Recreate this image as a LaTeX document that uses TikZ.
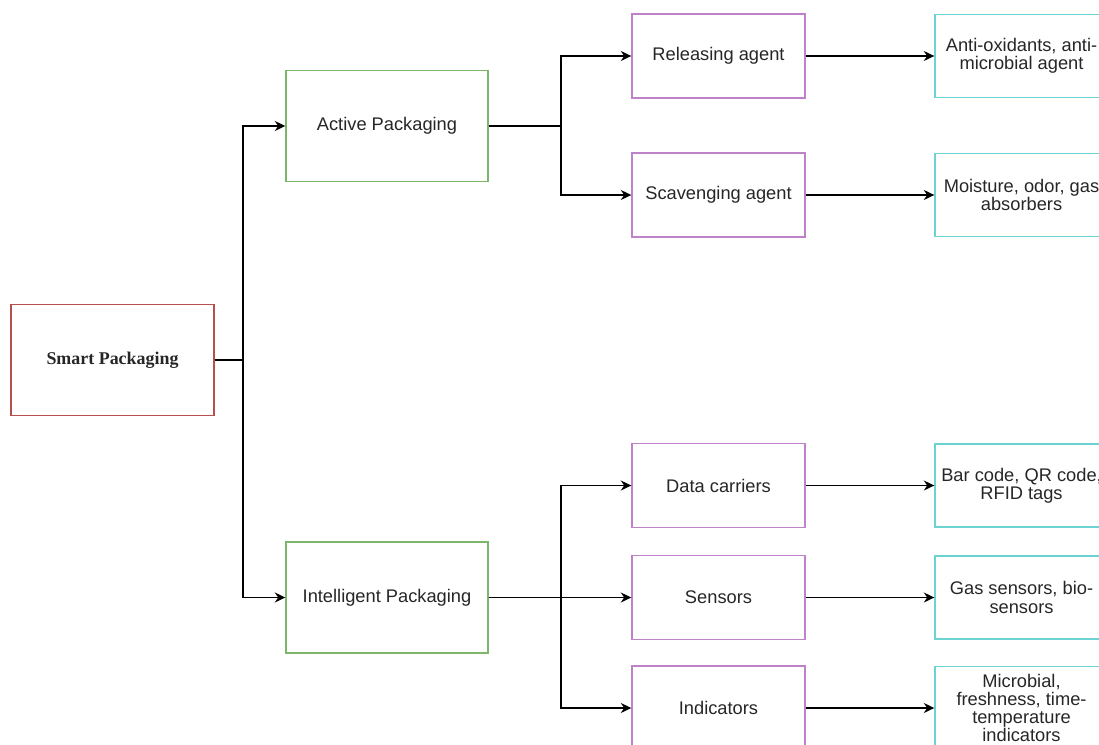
\documentclass[tikz,border=0pt]{standalone}
\usepackage{xcolor}
\usepackage{tikz}
\usepackage{fontspec}
\setmainfont{Liberation Sans}
\newfontfamily\rootfont{Liberation Serif}
\usetikzlibrary{shapes,arrows,calc,positioning}
\usetikzlibrary{arrows.meta}

\definecolor{boxred}{HTML}{B5504C}
\definecolor{boxgreen}{HTML}{7DB56A}
\definecolor{boxpurple}{HTML}{BE82C8}
\definecolor{boxcyan}{HTML}{6CD2D2}
\definecolor{boxtext}{HTML}{262626}

\begin{document}
\begin{tikzpicture}[->,>={Stealth[length=2.1mm,width=2mm]},line width=1pt,font=\fontsize{10.4}{10.3}\selectfont,text=boxtext]
	\tikzstyle{root} = [draw=boxred,rectangle,line width=0.8pt,minimum width=4.06cm,minimum height=2.22cm,font=\rootfont\bfseries\fontsize{10.2}{12}\selectfont]
	\tikzstyle{block1} = [draw=boxgreen,rectangle,line width=0.8pt,minimum width=4.04cm,minimum height=2.22cm]
	\tikzstyle{block2} = [draw=boxpurple,rectangle,line width=0.8pt,minimum width=3.46cm,minimum height=1.68cm]
	\tikzstyle{block3} = [draw=boxcyan,rectangle,line width=0.8pt,minimum width=3.46cm,minimum height=1.66cm,align=center]

	\useasboundingbox (0,0) rectangle (21.98,14.88);
	\clip (0,0) rectangle (21.98,14.88);

	\node[root] (SP) at (2.25,7.68) {Smart Packaging};

	\node[block1] (AP) at (7.74,12.36) {Active Packaging};
	\node[block1] (IP) at (7.74,2.93) {Intelligent Packaging};

	\node[block2] (RA) at (14.37,13.76) {Releasing agent};
	\node[block2] (SA) at (14.37,10.98) {Scavenging agent};
	\node[block2] (DC) at (14.37,5.17) {Data carriers};
	\node[block2] (SE) at (14.37,2.93) {Sensors};
	\node[block2] (IN) at (14.37,0.72) {Indicators};

	\node[block3] (RA1) at (20.43,13.76) {Anti-oxidants, anti-\\microbial agent};
	\node[block3] (SA1) at (20.43,10.98) {Moisture, odor, gas\\absorbers};
	\node[block3] (DC1) at (20.43,5.17) {Bar code, QR code,\\RFID tags};
	\node[block3] (SE1) at (20.43,2.93) {Gas sensors, bio-\\sensors};
	\node[block3] (IN1) at (20.43,0.72) {Microbial,\\freshness, time-\\temperature\\indicators};

	\draw (SP.east) -- ++(0.56,0) |- (AP.west);
	\draw (SP.east) -- ++(0.56,0) |- (IP.west);

	\draw (AP.east) -- ++(1.44,0) |- (RA.west);
	\draw (AP.east) -- ++(1.44,0) |- (SA.west);

	\draw (IP.east) -- ++(1.44,0) |- (DC.west);
	\draw (IP.east) -- (SE.west);
	\draw (IP.east) -- ++(1.44,0) |- (IN.west);

	\draw (RA.east) -- (RA1.west);
	\draw (SA.east) -- (SA1.west);
	\draw (DC.east) -- (DC1.west);
	\draw (SE.east) -- (SE1.west);
	\draw (IN.east) -- (IN1.west);

\end{tikzpicture}
\end{document}
